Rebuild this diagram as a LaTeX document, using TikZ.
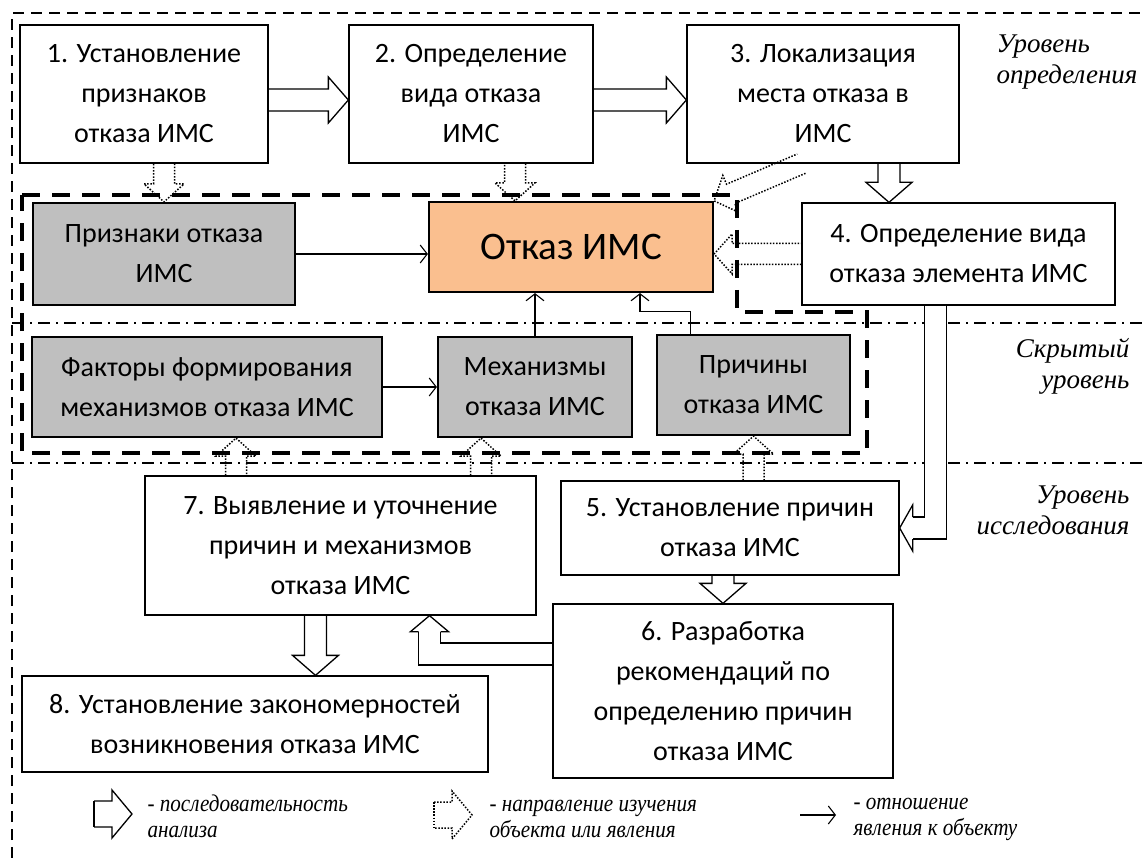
\documentclass[tikz,border=0pt]{standalone}
\usepackage{fontspec}
\setmainfont{Carlito}
\newfontfamily\levelfont{Liberation Serif}
\newfontfamily\legendfont[FakeStretch=0.88]{Liberation Serif}
\usetikzlibrary{calc,arrows.meta}

\definecolor{hiddengray}{RGB}{191,191,191}
\definecolor{failorange}{RGB}{250,191,143}

% block arrow sizes
\newcommand{\arrshaft}{11pt}
\newcommand{\arrwing}{23pt}
\newcommand{\arrhead}{20pt}

% straight hollow block arrow: [style]{from}{to}
\newcommand{\blkarrow}[3][]{%
  \coordinate (ba-s) at (#2);
  \coordinate (ba-t) at (#3);
  \coordinate (ba-b) at ($(ba-t)!\arrhead!(ba-s)$);
  \draw[#1] ($(ba-s)!\arrshaft!90:(ba-t)$) -- ($(ba-b)!\arrshaft!90:(ba-t)$)
    -- ($(ba-b)!\arrwing!90:(ba-t)$) -- (ba-t) -- ($(ba-b)!\arrwing!-90:(ba-t)$)
    -- ($(ba-b)!\arrshaft!-90:(ba-t)$) -- ($(ba-s)!\arrshaft!-90:(ba-t)$);
}
% head only, for the bent arrows: [style]{base}{tip}
\newcommand{\blkhead}[3][]{%
  \coordinate (bh-b) at (#2);
  \coordinate (bh-t) at (#3);
  \filldraw[fill=white,#1] ($(bh-b)!\arrshaft!90:(bh-t)$) -- ($(bh-b)!\arrwing!90:(bh-t)$)
    -- (bh-t) -- ($(bh-b)!\arrwing!-90:(bh-t)$) -- ($(bh-b)!\arrshaft!-90:(bh-t)$);
}

\begin{document}
\begin{tikzpicture}[x=1pt, y=-1pt,
    stage/.style={draw, line width=1.3pt, fill=white, align=center, inner sep=2pt,
      font=\fontsize{28}{40}\selectfont},
    hidden/.style={draw, line width=2.2pt, fill=hiddengray, align=center, inner sep=2pt,
      font=\fontsize{28}{40}\selectfont},
    level/.style={font=\levelfont\itshape\fontsize{27}{31}\selectfont},
    legend/.style={font=\legendfont\itshape\fontsize{24}{26}\selectfont, align=left, anchor=west},
    relation/.style={line width=1.1pt, -{Straight Barb[length=7pt,width=18pt]}},
    seqarrow/.style={line width=1.3pt, line join=miter},
    studyarrow/.style={line width=1.5pt, dash pattern=on 1.5pt off 1.6pt},
    bentarrow/.style={seqarrow, double, double distance=20.7pt},
    outerline/.style={line width=1.4pt, dash pattern=on 11pt off 7pt},
    levelline/.style={line width=1.3pt, dash pattern=on 12pt off 6pt on 2pt off 6pt},
    hiddenzone/.style={line width=4.5pt, dash pattern=on 18pt off 12pt},
]
\useasboundingbox (0,0) rectangle (1147,858);

% frame and level borders
\draw[outerline] (12,858) -- (12,13) -- (1147,13);
\draw[levelline] (12,323) -- (1147,323);
\draw[levelline] (12,463) -- (1147,463);
\draw[hiddenzone] (22,195) -- (737,195) -- (737,312) -- (867,312) -- (867,453) -- (22,453) -- cycle;

% level of determination
\node[stage, minimum width=248pt, minimum height=138pt] (b1) at (144,94) {1. Установление\\признаков\\отказа ИМС};
\node[stage, minimum width=244pt, minimum height=138pt] (b2) at (471,94) {2. Определение\\вида отказа\\ИМС};
\node[stage, minimum width=272pt, minimum height=138pt] (b3) at (823,94) {3. Локализация\\места отказа в\\ИМС};
\node[stage, minimum width=313pt, minimum height=102pt] (b4) at (958.5,254) {4. Определение вида\\отказа элемента ИМС};
\node[hidden, minimum width=262pt, minimum height=102pt] (pr) at (164,254) {Признаки отказа\\ИМС};
\node[hidden, fill=failorange, minimum width=284pt, minimum height=90pt,
  font=\fontsize{39}{47}\selectfont] (ot) at (571,247) {Отказ ИМС};

% hidden level
\node[hidden, minimum width=350pt, minimum height=100pt] (fa) at (207,387) {Факторы формирования\\механизмов отказа ИМС};
\node[hidden, minimum width=194pt, minimum height=100pt] (me) at (535,387) {Механизмы\\отказа ИМС};
\node[hidden, minimum width=193pt, minimum height=100pt] (pc) at (753.5,385) {Причины\\отказа ИМС};

% level of research
\node[stage, minimum width=391pt, minimum height=139pt] (b7) at (340.5,545.5) {7. Выявление и уточнение\\причин и механизмов\\отказа ИМС};
\node[stage, minimum width=338pt, minimum height=94pt] (b5) at (730,528) {5. Установление причин\\отказа ИМС};
\node[stage, minimum width=340pt, minimum height=174pt] (b6) at (723,691) {6. Разработка\\рекомендаций по\\определению причин\\отказа ИМС};
\node[stage, minimum width=466pt, minimum height=96pt] (b8) at (255,724) {8. Установление закономерностей\\возникновения отказа ИМС};

% level names
\node[level, align=left, anchor=west] (lvl1) at (993,62) {Уровень\\определения};
\node[level, align=right, anchor=east] (lvl2) at (1133,366) {Скрытый\\уровень};
\node[level, align=right, anchor=east] (lvl3) at (1133,510) {Уровень\\исследования};

% relations
\draw[relation] (pr.east) -- (pr.east -| ot.west);
\draw[relation] (fa) -- (me);
\draw[relation] (me.north) -- (me.north |- ot.south);
\draw[relation] ([xshift=35pt]pc.north west) -- ++(0,-22) -| ([xshift=69pt]ot.south);

% sequence of analysis
\blkarrow[seqarrow]{[yshift=-6pt]b1.east}{[yshift=-6pt]b2.west}
\blkarrow[seqarrow]{[yshift=-6pt]b2.east}{[yshift=-6pt]b3.west}
\coordinate (s34) at ([xshift=66pt]b3.south);
\blkarrow[seqarrow]{s34}{s34 |- b4.north}
\blkarrow[seqarrow]{b6.north |- b5.south}{b6.north}
\coordinate (s78) at ([xshift=-25pt]b7.south);
\blkarrow[seqarrow]{s78}{s78 |- b8.north}
\begin{scope}
  \renewcommand{\arrhead}{13pt}
  \coordinate (h45) at ($(b5.east)+(13,0)$);
  \draw[bentarrow] ([xshift=-23pt]b4.south) |- (h45);
  \blkhead[seqarrow]{h45}{b5.east}
  \renewcommand{\arrwing}{19pt}
  \coordinate (t67) at ([xshift=89pt]b7.south);
  \coordinate (h67) at ($(t67)+(0,16)$);
  \draw[bentarrow] ([yshift=37pt]b6.west) -| (h67);
  \blkhead[seqarrow]{h67}{t67}
\end{scope}

% direction of study
\begin{scope}
  \renewcommand{\arrshaft}{10.5pt}
  \renewcommand{\arrwing}{20pt}
  \renewcommand{\arrhead}{18pt}
  \blkarrow[studyarrow]{pr.north |- b1.south}{pr.north}
  \coordinate (d2) at ([xshift=44pt]b2.south);
  \blkarrow[studyarrow]{d2}{d2 |- ot.north}
  \coordinate (d3) at ([xshift=115pt]b3.south west);
  \blkarrow[studyarrow]{d3}{ot.north east}
  \blkarrow[studyarrow]{b4.west}{b4.west -| ot.east}
  \coordinate (d7a) at ([xshift=29pt]fa.south);
  \blkarrow[studyarrow]{d7a |- b7.north}{d7a}
  \coordinate (d7b) at ([xshift=-54pt]me.south);
  \blkarrow[studyarrow]{d7b |- b7.north}{d7b}
  \blkarrow[studyarrow]{pc.south |- b5.north}{pc.south}
\end{scope}

% legend
\begin{scope}
  \renewcommand{\arrshaft}{13pt}
  \renewcommand{\arrwing}{24pt}
  \coordinate (lg1a) at (94,814);
  \coordinate (lg1b) at (132,814);
  \blkarrow[seqarrow]{lg1a}{lg1b}
  \draw[seqarrow] ($(lg1a)+(0,-13)$) -- ($(lg1a)+(0,13)$);
  \coordinate (lg2a) at (434,815);
  \coordinate (lg2b) at (472,815);
  \blkarrow[studyarrow]{lg2a}{lg2b}
  \draw[studyarrow] ($(lg2a)+(0,-13)$) -- ($(lg2a)+(0,13)$);
\end{scope}
\coordinate (lg3a) at (800,815);
\coordinate (lg3b) at (836,815);
\draw[relation] (lg3a) -- (lg3b);
\node[legend] (lgt1) at (144,816) {- последовательность\\анализа};
\node[legend] (lgt2) at (486,819) {- направление изучения\\объекта или явления};
\node[legend] (lgt3) at (850,819) {- отношение\\явления к объекту};
\end{tikzpicture}
\end{document}
